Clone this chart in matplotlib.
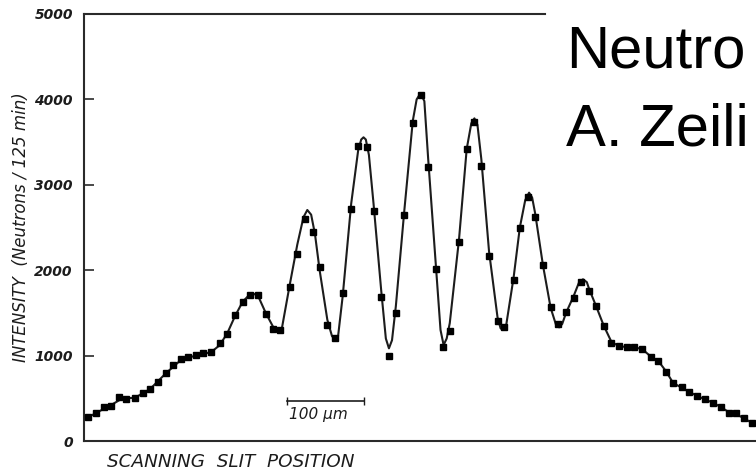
import matplotlib
matplotlib.use("Agg")
import matplotlib.pyplot as plt

# Measured counts vs. scanning slit position (micrometres)
slit_pos_um = [5, 16, 26, 35, 45, 55, 66, 76, 86, 96, 106, 116, 126, 135, 145,
               155, 165, 176, 186, 196, 206, 215, 226, 236, 246, 255, 267, 277,
               287, 297, 306, 316, 326, 336, 347, 356, 367, 376, 386, 396, 405,
               416, 427, 437, 447, 457, 466, 475, 487, 497, 507, 516, 526, 537,
               546, 558, 566, 577, 586, 596, 606, 616, 626, 636, 646, 656, 665,
               675, 685, 695, 705, 714, 725, 736, 746, 756, 765, 776, 786, 796,
               806, 817, 827, 837, 847, 857, 867]
counts = [277, 324, 394, 410, 512, 495, 503, 558, 613, 691, 800, 886, 964, 980,
          1003, 1034, 1042, 1144, 1253, 1479, 1630, 1708, 1712, 1487, 1308, 1300,
          1800, 2190, 2596, 2451, 2034, 1358, 1203, 1737, 2713, 3454, 3439, 2697,
          1690, 995, 1495, 2650, 3720, 4052, 3212, 2014, 1097, 1292, 2334, 3416,
          3739, 3220, 2172, 1405, 1331, 1885, 2491, 2861, 2619, 2061, 1566, 1370,
          1514, 1671, 1866, 1760, 1581, 1347, 1151, 1112, 1097, 1104, 1077, 987,
          940, 812, 676, 629, 577, 530, 488, 449, 395, 324, 331, 266, 214]

# Theoretical diffraction curve
theory_pos_um = [0, 16, 35, 50, 66, 86, 106, 126, 145, 165, 176, 186, 196, 206,
                 214, 220, 226, 236, 246, 251, 257, 267, 277, 285, 290, 295, 300,
                 306, 316, 322, 326, 330, 336, 347, 356, 360, 363, 366, 370, 376,
                 386, 392, 396, 400, 405, 416, 427, 432, 437, 442, 447, 457, 463,
                 467, 471, 475, 487, 497, 503, 507, 511, 516, 526, 537, 541, 544,
                 548, 558, 566, 573, 578, 582, 586, 596, 606, 613, 617, 621, 626,
                 636, 643, 648, 653, 656, 665, 675, 685, 695, 705, 714, 725, 736,
                 746, 756, 765, 776, 786, 796, 806, 817, 827, 837, 847, 857, 867,
                 873]
theory_counts = [250, 330, 420, 500, 505, 610, 790, 950, 1000, 1040, 1120, 1260,
                 1460, 1630, 1705, 1725, 1700, 1500, 1330, 1290, 1320, 1820, 2300,
                 2620, 2705, 2650, 2420, 2000, 1420, 1230, 1183, 1230, 1700, 2780,
                 3400, 3530, 3556, 3530, 3350, 2780, 1760, 1200, 1085, 1180, 1580,
                 2700, 3750, 4000, 4072, 3980, 3300, 2050, 1300, 1124, 1200, 1380,
                 2360, 3420, 3720, 3778, 3700, 3300, 2220, 1450, 1320, 1300, 1340,
                 1920, 2500, 2820, 2908, 2850, 2660, 2060, 1560, 1360, 1331, 1370,
                 1500, 1700, 1860, 1893, 1860, 1780, 1580, 1350, 1160, 1110, 1100,
                 1100, 1075, 990, 935, 815, 680, 625, 575, 530, 488, 448, 398, 340,
                 315, 265, 215, 190]

y_ticks = [0, 1000, 2000, 3000, 4000, 5000]
scale_bar_um = [264, 364]
scale_bar_level = 472
heading_lines = ["Neutro", "A. Zeili"]

ink = "#1c1c1c"

fig = plt.figure(figsize=(7.56, 4.73), dpi=100)
ax = fig.add_axes([84 / 756, 32 / 473, 672 / 756, 427 / 473])

ax.plot(theory_pos_um, theory_counts, color=ink, lw=1.5, zorder=2)
ax.plot(slit_pos_um, counts, linestyle="none", marker="s", markersize=5,
        color="black", zorder=3)

ax.set_xlim(0, 872.7)
ax.set_ylim(0, 5000)

for side in ("top", "right"):
    ax.spines[side].set_visible(False)
for side in ("left", "bottom"):
    ax.spines[side].set_linewidth(1.5)
    ax.spines[side].set_color("#2a2a2a")
ax.axhline(5000, xmin=0, xmax=0.686, color="#2a2a2a", lw=1.5, clip_on=False)

ax.set_xticks([])
ax.set_yticks(y_ticks)
ax.set_yticklabels([str(v) for v in y_ticks], fontsize=10, fontweight="bold",
                   fontstyle="italic", color=ink)
ax.tick_params(axis="y", direction="in", length=7, width=1.2, pad=8,
               color="#2a2a2a")

ax.set_ylabel("INTENSITY  (Neutrons / 125 min)", fontsize=12,
              fontstyle="italic", color=ink, labelpad=3)
fig.text(107 / 756, 1 - 462 / 473, "SCANNING  SLIT  POSITION", fontsize=13.2,
         fontstyle="italic", color=ink, va="center", ha="left")

# 100 micrometre scale bar
ax.plot(scale_bar_um, [scale_bar_level] * 2, color=ink, lw=1.2,
        marker="|", markersize=6)
ax.text(scale_bar_um[0] + 2, scale_bar_level - 70, "100 μm", fontsize=11,
        fontstyle="italic", color=ink, va="top", ha="left")

# Slide heading (two lines)
for line, base_px in zip(heading_lines, [68, 145]):
    fig.text(566 / 756, 1 - base_px / 473, line, fontsize=43,
             family=["Liberation Sans", "DejaVu Sans"], color="black",
             ha="left", va="baseline")

fig.savefig("out.png", dpi=100, facecolor="white")
